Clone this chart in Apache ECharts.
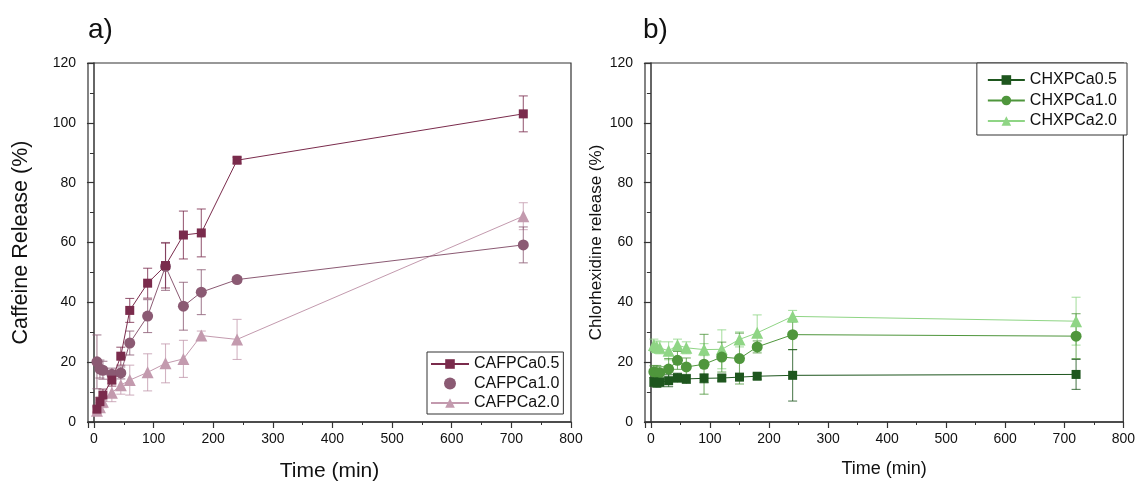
<!DOCTYPE html>
<html><head><meta charset="utf-8">
<script src="https://cdn.jsdelivr.net/npm/echarts@6/dist/echarts.min.js"></script>
<style>html,body{margin:0;padding:0;background:#fff}#c{width:1138px;height:498px}</style>
</head><body><div id="c"></div>
<script>
const times = [5, 10, 15, 30, 45, 60, 90, 120, 150, 180, 240, 720];

const caf05 = [4.3, 6.8, 9.0, 14.0, 22.0, 37.3, 46.4, 52.3, 62.5, 63.2, 87.5, 103.0];
const caf05Err = [1.0, 1.5, 2.0, 2.0, 3.0, 4.0, 5.0, 7.5, 8.0, 8.0, 1.0, 6.0];
const caf10 = [20.1, 17.7, 17.3, 16.0, 16.4, 26.4, 35.4, 52.0, 38.7, 43.4, 47.6, 59.2];
const caf10Err = [9.0, 3.0, 3.0, 2.0, 2.0, 4.0, 5.5, 8.0, 8.0, 7.5, 1.0, 6.0];
const caf20 = [3.8, 4.9, 6.8, 9.8, 12.3, 14.0, 16.6, 19.6, 21.1, 28.9, 27.6, 68.8];
const caf20Err = [1.0, 1.5, 2.0, 3.0, 3.0, 5.0, 6.2, 6.5, 6.2, 1.5, 6.7, 4.5];

const chx05 = [13.4, 13.1, 13.3, 13.8, 14.8, 14.4, 14.6, 14.7, 15.0, 15.3, 15.6, 15.9];
const chx05Err = [1.5, 1.5, 1.5, 2.0, 1.5, 1.5, 1.5, 1.0, 1.0, 1.0, 8.6, 5.0];
const chx10 = [16.8, 16.4, 16.5, 17.7, 20.6, 18.4, 19.3, 21.7, 21.2, 25.1, 29.2, 28.7];
const chx10Err = [2.0, 2.5, 2.0, 3.5, 3.0, 3.0, 10.0, 5.0, 8.5, 2.0, 5.0, 7.5];
const chx20 = [25.7, 25.1, 24.8, 23.8, 25.7, 24.8, 24.2, 24.3, 27.6, 29.8, 35.3, 33.7];
const chx20Err = [2.0, 2.0, 2.0, 3.0, 2.0, 2.0, 2.0, 6.5, 2.5, 6.0, 2.0, 8.0];

const leftNames = ['CAFPCa0.5', 'CAFPCa1.0', 'CAFPCa2.0'];
const rightNames = ['CHXPCa0.5', 'CHXPCa1.0', 'CHXPCa2.0'];
const yTicks = [0, 20, 40, 60, 80, 100, 120];

const FONT = 'Liberation Sans, Arial, sans-serif';
const AX = '#333';

function xAxisDef(gi, nameSize, gap) {
  return {
    type: 'value', gridIndex: gi, min: -10, max: 800, splitNumber: 8,
    name: 'Time (min)', nameLocation: 'middle', nameGap: gap,
    nameTextStyle: {fontFamily: FONT, fontSize: nameSize, color: '#111'},
    axisLine: {show: true, onZero: false, lineStyle: {color: AX, width: 1.5}},
    axisTick: {show: true, length: 6, lineStyle: {color: AX, width: 1.2}},
    minorTick: {show: true, splitNumber: 2, length: 3, lineStyle: {color: AX, width: 1}},
    axisLabel: {fontFamily: FONT, fontSize: 14, color: '#111', margin: 10,
      formatter: v => (v < 0 ? '' : String(v))},
    splitLine: {show: false}, minorSplitLine: {show: false}
  };
}
function yAxisDef(gi, name, nameSize, gap) {
  return {
    type: 'value', gridIndex: gi, min: yTicks[0], max: yTicks[yTicks.length - 1], interval: 20,
    name: name, nameLocation: 'middle', nameGap: gap,
    nameTextStyle: {fontFamily: FONT, fontSize: nameSize, color: '#111'},
    axisLine: {show: true, lineStyle: {color: AX, width: 1.5}},
    axisTick: {show: true, length: 7, lineStyle: {color: AX, width: 1.2}},
    minorTick: {show: true, splitNumber: 2, length: 4, lineStyle: {color: AX, width: 1}},
    axisLabel: {fontFamily: FONT, fontSize: 14, color: '#111', margin: 12},
    splitLine: {show: false}, minorSplitLine: {show: false}
  };
}

function lineSeries(name, vals, color, symbol, size, gi) {
  return {
    type: 'line', name: name, xAxisIndex: gi, yAxisIndex: gi,
    data: times.map((t, i) => [t, vals[i]]),
    symbol: symbol, symbolSize: size, showAllSymbol: true,
    itemStyle: {color: color, opacity: 1},
    lineStyle: {color: color, width: 1},
    z: 5, animation: false
  };
}
function errSeries(vals, errs, color, gi) {
  return {
    type: 'custom', name: 'err', xAxisIndex: gi, yAxisIndex: gi, z: 3, animation: false,
    silent: true,
    data: times.map((t, i) => [t, vals[i], errs[i]]),
    encode: {x: 0, y: 1},
    renderItem: function (params, api) {
      const x = api.value(0), y = api.value(1), e = api.value(2);
      const top = api.coord([x, y + e]);
      const bot = api.coord([x, y - e]);
      const hw = 4.5;
      const st = {stroke: color, lineWidth: 1.1, opacity: 0.75};
      return {type: 'group', children: [
        {type: 'line', shape: {x1: top[0], y1: top[1], x2: bot[0], y2: bot[1]}, style: st},
        {type: 'line', shape: {x1: top[0] - hw, y1: top[1], x2: top[0] + hw, y2: top[1]}, style: st},
        {type: 'line', shape: {x1: bot[0] - hw, y1: bot[1], x2: bot[0] + hw, y2: bot[1]}, style: st}
      ]};
    }
  };
}

const cL = ['#7a2b4c', '#8b5a73', '#c39aae'];
const cR = ['#1e561e', '#4f963c', '#8fd585'];

const chart = echarts.init(document.getElementById('c'), null, {renderer: 'canvas'});
chart.setOption({
  backgroundColor: '#ffffff',
  animation: false,
  textStyle: {fontFamily: FONT},
  grid: [
    {left: 88, right: 567, top: 63, bottom: 76, show: true, borderColor: AX, borderWidth: 1.2, backgroundColor: 'transparent'},
    {left: 645, right: 12, top: 63, bottom: 76, show: true, borderColor: AX, borderWidth: 1.2, backgroundColor: 'transparent'}
  ],
  xAxis: [xAxisDef(0, 21, 39), xAxisDef(1, 18, 38)],
  yAxis: [yAxisDef(0, 'Caffeine Release (%)', 21.5, 56), yAxisDef(1, 'Chlorhexidine release (%)', 17, 40)],
  legend: [
    {
      data: [{name: leftNames[0]}, {name: leftNames[1], icon: 'circle'}, {name: leftNames[2]}],
      orient: 'vertical', left: 427, top: 352,
      padding: [3, 4, 2, 3], itemGap: 1.5, itemWidth: 38, itemHeight: 12,
      backgroundColor: '#fff', borderColor: AX, borderWidth: 1, borderRadius: 0,
      textStyle: {fontFamily: FONT, fontSize: 16, color: '#111', lineHeight: 18},
      selectedMode: false
    },
    {
      data: rightNames,
      orient: 'vertical', right: 11, top: 63,
      padding: [8, 10, 5, 10], itemGap: 2.5, itemWidth: 37, itemHeight: 12,
      backgroundColor: '#fff', borderColor: AX, borderWidth: 1, borderRadius: 0,
      textStyle: {fontFamily: FONT, fontSize: 16, color: '#111', lineHeight: 18},
      selectedMode: false
    }
  ],
  graphic: [
    {type: 'text', left: 88, top: 16, style: {text: 'a)', font: '28px ' + FONT, fill: '#111'}},
    {type: 'text', left: 643, top: 16, style: {text: 'b)', font: '28px ' + FONT, fill: '#111'}}
  ],
  series: [
    errSeries(caf20, caf20Err, cL[2], 0),
    errSeries(caf10, caf10Err, cL[1], 0),
    errSeries(caf05, caf05Err, cL[0], 0),
    lineSeries(leftNames[2], caf20, cL[2], 'triangle', 12, 0),
    lineSeries(leftNames[1], caf10, cL[1], 'circle', 11, 0),
    lineSeries(leftNames[0], caf05, cL[0], 'rect', 9, 0),
    errSeries(chx20, chx20Err, cR[2], 1),
    errSeries(chx10, chx10Err, cR[1], 1),
    errSeries(chx05, chx05Err, cR[0], 1),
    lineSeries(rightNames[2], chx20, cR[2], 'triangle', 12, 1),
    lineSeries(rightNames[1], chx10, cR[1], 'circle', 11, 1),
    lineSeries(rightNames[0], chx05, cR[0], 'rect', 9, 1)
  ]
});
</script></body></html>
